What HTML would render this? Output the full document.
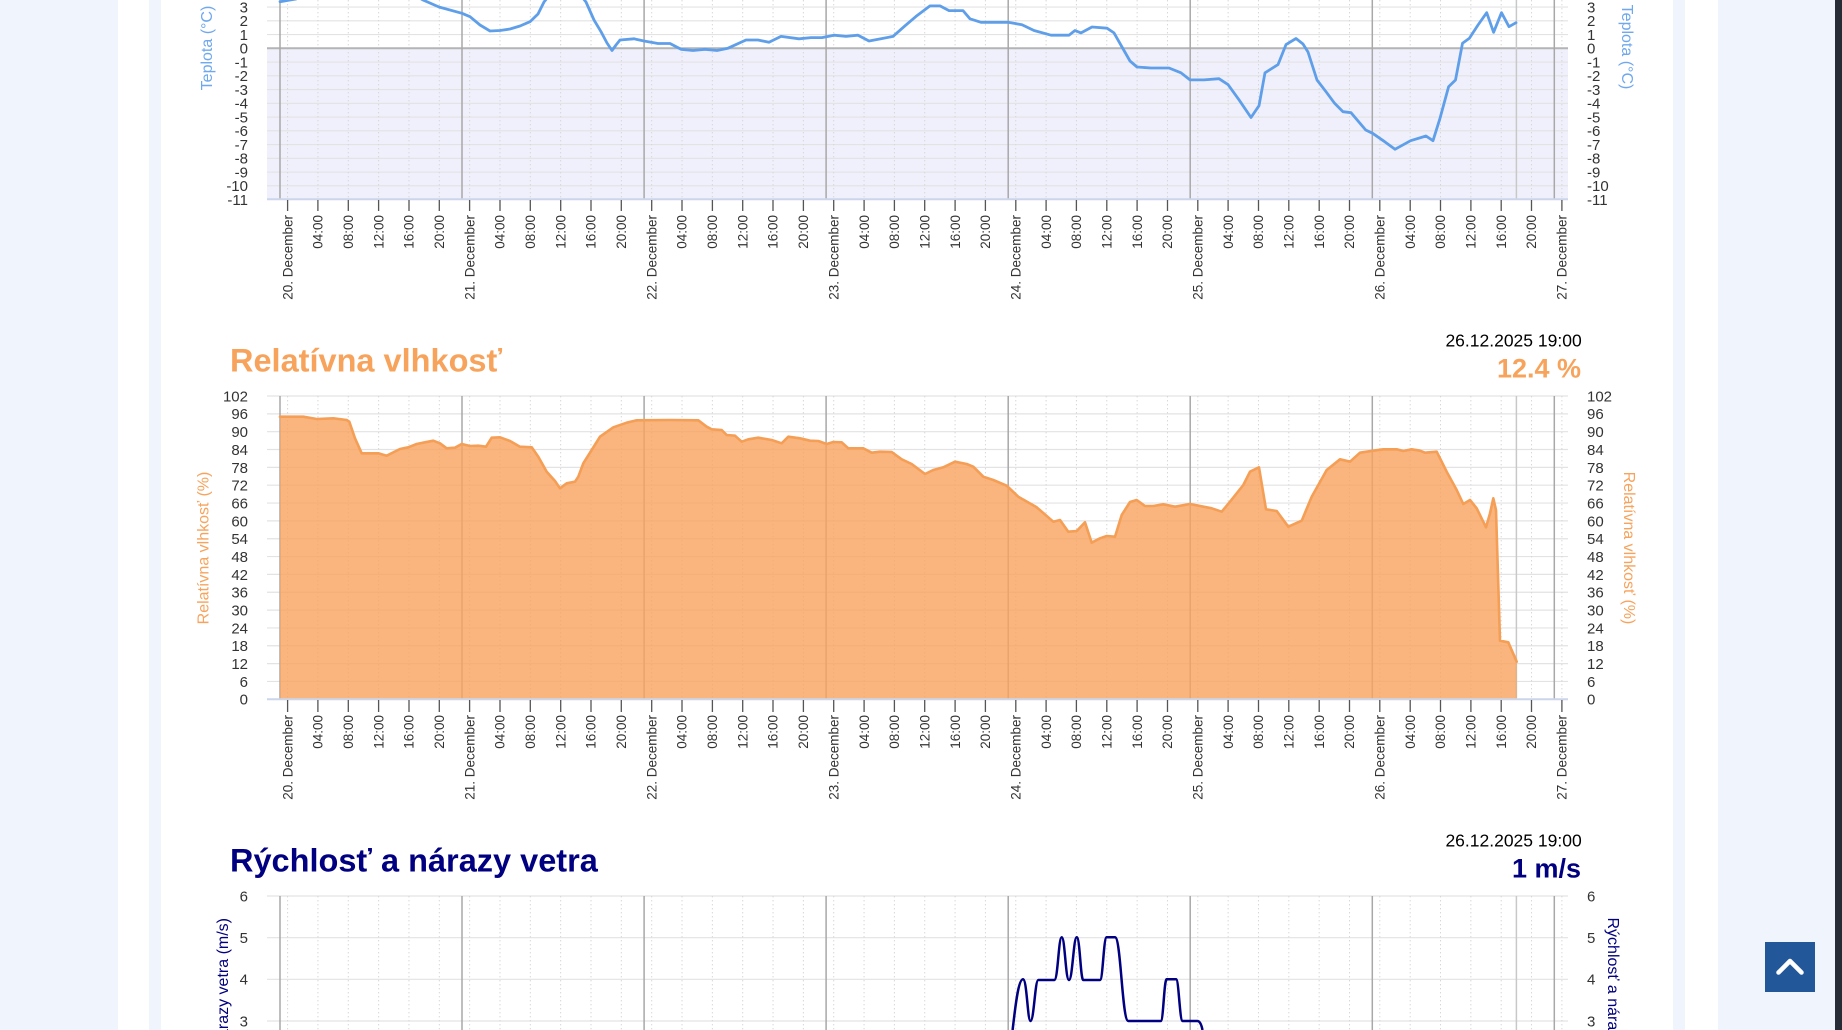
<!DOCTYPE html>
<html><head><meta charset="utf-8">
<style>
html,body{margin:0;padding:0;width:1842px;height:1030px;overflow:hidden}
body{background:#f0f5fd;position:relative;font-family:"Liberation Sans",Arial,sans-serif}
#wrap{position:absolute;left:0;top:0;width:1842px;height:1030px;overflow:hidden}
.s{position:absolute;top:0;height:1030px}
svg{position:absolute;left:0;top:0;display:block}
svg text{font-family:"Liberation Sans",Arial,sans-serif}
</style></head>
<body>
<div id="wrap">
<div class="s" style="left:118px;width:31px;background:#fff"></div>
<div class="s" style="left:161px;width:1512px;background:#fff"></div>
<div class="s" style="left:1685px;width:33px;background:#fff"></div>
<div class="s" style="left:1835px;width:7px;background:#272b36"></div>
<svg width="1842" height="1030" viewBox="0 0 1842 1030" overflow="hidden">
<defs>
<pattern id="dots" patternUnits="userSpaceOnUse" x="287.1" y="0" width="30.34" height="4">
<rect x="0" y="0" width="1" height="1.4" fill="#d6d6d6"/>
</pattern>
<clipPath id="cw"><rect x="267" y="890" width="1301" height="140"/></clipPath>
<clipPath id="ct"><rect x="267" y="0" width="1301" height="200"/></clipPath>
</defs>

<!-- ================= TEMPERATURE ================= -->
<rect x="267" y="48.3" width="1301" height="151" fill="#f0f0fc"/>
<g stroke="#e3e3e3" stroke-width="1.2">
<line x1="267" y1="7.05" x2="1568" y2="7.05"/>
<line x1="267" y1="20.8" x2="1568" y2="20.8"/>
<line x1="267" y1="34.55" x2="1568" y2="34.55"/>
<line x1="267" y1="62.05" x2="1568" y2="62.05"/>
<line x1="267" y1="75.8" x2="1568" y2="75.8"/>
<line x1="267" y1="89.55" x2="1568" y2="89.55"/>
<line x1="267" y1="103.3" x2="1568" y2="103.3"/>
<line x1="267" y1="117.05" x2="1568" y2="117.05"/>
<line x1="267" y1="130.8" x2="1568" y2="130.8"/>
<line x1="267" y1="144.55" x2="1568" y2="144.55"/>
<line x1="267" y1="158.3" x2="1568" y2="158.3"/>
<line x1="267" y1="172.05" x2="1568" y2="172.05"/>
<line x1="267" y1="185.8" x2="1568" y2="185.8"/>
</g>
<rect x="267" y="0" width="1301" height="199" fill="url(#dots)"/>
<line x1="267" y1="48.3" x2="1568" y2="48.3" stroke="#b4b4b4" stroke-width="2"/>
<g stroke="#a8a8a8" stroke-width="1.5">
<line x1="280" y1="0" x2="280" y2="199"/>
<line x1="462" y1="0" x2="462" y2="199"/>
<line x1="644.1" y1="0" x2="644.1" y2="199"/>
<line x1="826.1" y1="0" x2="826.1" y2="199"/>
<line x1="1008.2" y1="0" x2="1008.2" y2="199"/>
<line x1="1190.2" y1="0" x2="1190.2" y2="199"/>
<line x1="1372.3" y1="0" x2="1372.3" y2="199"/>
<line x1="1554.3" y1="0" x2="1554.3" y2="199"/>
</g>
<line x1="1516.4" y1="0" x2="1516.4" y2="199" stroke="#c8c8c8" stroke-width="1.5"/>
<line x1="267" y1="199.3" x2="1568" y2="199.3" stroke="#ccd6eb" stroke-width="2"/>
<g clip-path="url(#ct)">
<path fill="none" stroke="#5f9fe9" stroke-width="2.8" stroke-linejoin="round" stroke-linecap="round"
d="M280,1.7 L296,-1 L300,-3 L418,-3 L423,0 L439,7 L462,13.3 L470,16.7 L480,25 L490,31 L500,30.5 L510,29 L520,26 L530,21.7 L538,14 L544,2 L548,-3 L582,-3 L586,2 L594,20 L601,31.7 L607,43 L612,50.5 L616,45 L620,40 L634,38.8 L644,41 L658,43.5 L670,43.5 L681,49.3 L693,50.5 L705,49.3 L717,50.5 L728,48.2 L746,40 L758,40 L769,42.3 L781,36.4 L799,38.8 L811,37.6 L822,37.6 L834,35.2 L846,36.4 L858,35.2 L869,41 L881,38.8 L893,36.4 L905,25.8 L916,16.4 L930,5.9 L940,5.9 L949,10.6 L963,10.6 L970,18.8 L981,22.3 L993,22.3 L1008,22.3 L1022,24.7 L1034,30.5 L1051,35.2 L1069,35.2 L1075,30.5 L1081,32.9 L1092,27 L1107,28.2 L1114,32.9 L1122,47 L1130,61 L1137,67 L1151,68 L1169,68 L1181,72.8 L1190,79.9 L1204,79.9 L1219,78.7 L1228,84.6 L1239,99.8 L1251,117.5 L1259,105.7 L1265,72.8 L1278,64.6 L1286,44.6 L1296,38.5 L1303,44 L1308,52 L1317,80 L1326,91.7 L1334.6,103.3 L1343,111.7 L1351,112.7 L1365.7,130 L1372.6,133.3 L1384.7,141.7 L1395,149.3 L1410.6,140.7 L1426,136 L1433,140.7 L1440,118.3 L1448.6,86.7 L1455.5,80 L1462.5,43.3 L1469.4,38.3 L1478,25 L1486.7,12.7 L1493.6,32.3 L1501.5,12.7 L1509,26.7 L1516,22.7"/>
</g>
<path stroke="#555" stroke-width="1.3" d="M287.6,200V211M317.9,200V211M348.3,200V211M378.6,200V211M409,200V211M439.3,200V211M469.6,200V211M500,200V211M530.3,200V211M560.7,200V211M591,200V211M621.3,200V211M651.7,200V211M682,200V211M712.4,200V211M742.7,200V211M773,200V211M803.4,200V211M833.7,200V211M864.1,200V211M894.4,200V211M924.7,200V211M955.1,200V211M985.4,200V211M1015.8,200V211M1046.1,200V211M1076.4,200V211M1106.8,200V211M1137.1,200V211M1167.5,200V211M1197.8,200V211M1228.1,200V211M1258.5,200V211M1288.8,200V211M1319.2,200V211M1349.5,200V211M1379.8,200V211M1410.2,200V211M1440.5,200V211M1470.9,200V211M1501.2,200V211M1531.5,200V211M1561.9,200V211"/>
<g font-size="15" fill="#333" text-anchor="end">
<text x="248" y="12.4">3</text><text x="248" y="26.2">2</text><text x="248" y="39.9">1</text><text x="248" y="53.7">0</text><text x="248" y="67.4">-1</text><text x="248" y="81.2">-2</text><text x="248" y="94.9">-3</text><text x="248" y="108.7">-4</text><text x="248" y="122.4">-5</text><text x="248" y="136.2">-6</text><text x="248" y="149.9">-7</text><text x="248" y="163.7">-8</text><text x="248" y="177.4">-9</text><text x="248" y="191.2">-10</text><text x="248" y="204.9">-11</text>
</g>
<g font-size="15" fill="#333" text-anchor="start">
<text x="1587" y="12.4">3</text><text x="1587" y="26.2">2</text><text x="1587" y="39.9">1</text><text x="1587" y="53.7">0</text><text x="1587" y="67.4">-1</text><text x="1587" y="81.2">-2</text><text x="1587" y="94.9">-3</text><text x="1587" y="108.7">-4</text><text x="1587" y="122.4">-5</text><text x="1587" y="136.2">-6</text><text x="1587" y="149.9">-7</text><text x="1587" y="163.7">-8</text><text x="1587" y="177.4">-9</text><text x="1587" y="191.2">-10</text><text x="1587" y="204.9">-11</text>
</g>
<g transform="rotate(-90)" font-size="16" fill="#6fa8ee" text-anchor="middle"><text x="-48" y="212">Teplota (°C)</text></g>
<g transform="rotate(90)" font-size="16" fill="#6fa8ee" text-anchor="middle"><text x="47" y="-1622">Teplota (°C)</text></g>
<g transform="rotate(-90)" font-size="13.5" fill="#333" text-anchor="end">
<text x="-215" y="292.3">20. December</text><text x="-215" y="322.6">04:00</text><text x="-215" y="353">08:00</text><text x="-215" y="383.3">12:00</text><text x="-215" y="413.7">16:00</text><text x="-215" y="444">20:00</text>
<text x="-215" y="474.3">21. December</text><text x="-215" y="504.7">04:00</text><text x="-215" y="535">08:00</text><text x="-215" y="565.4">12:00</text><text x="-215" y="595.7">16:00</text><text x="-215" y="626">20:00</text>
<text x="-215" y="656.4">22. December</text><text x="-215" y="686.7">04:00</text><text x="-215" y="717.1">08:00</text><text x="-215" y="747.4">12:00</text><text x="-215" y="777.7">16:00</text><text x="-215" y="808.1">20:00</text>
<text x="-215" y="838.4">23. December</text><text x="-215" y="868.8">04:00</text><text x="-215" y="899.1">08:00</text><text x="-215" y="929.4">12:00</text><text x="-215" y="959.8">16:00</text><text x="-215" y="990.1">20:00</text>
<text x="-215" y="1020.5">24. December</text><text x="-215" y="1050.8">04:00</text><text x="-215" y="1081.1">08:00</text><text x="-215" y="1111.5">12:00</text><text x="-215" y="1141.8">16:00</text><text x="-215" y="1172.2">20:00</text>
<text x="-215" y="1202.5">25. December</text><text x="-215" y="1232.8">04:00</text><text x="-215" y="1263.2">08:00</text><text x="-215" y="1293.5">12:00</text><text x="-215" y="1323.9">16:00</text><text x="-215" y="1354.2">20:00</text>
<text x="-215" y="1384.5">26. December</text><text x="-215" y="1414.9">04:00</text><text x="-215" y="1445.2">08:00</text><text x="-215" y="1475.6">12:00</text><text x="-215" y="1505.9">16:00</text><text x="-215" y="1536.2">20:00</text>
<text x="-215" y="1566.6">27. December</text>
</g>

<!-- ================= HUMIDITY ================= -->
<text x="230" y="371.7" font-size="32.5" font-weight="bold" fill="#f7a35c">Relatívna vlhkosť</text>
<text x="1581.7" y="346.7" font-size="17.5" fill="#000" text-anchor="end">26.12.2025 19:00</text>
<text x="1581" y="377.3" font-size="27" font-weight="bold" fill="#f7a35c" text-anchor="end">12.4 %</text>
<g stroke="#e3e3e3" stroke-width="1.2">
<line x1="267" y1="396" x2="1568" y2="396"/>
<line x1="267" y1="413.84" x2="1568" y2="413.84"/>
<line x1="267" y1="431.68" x2="1568" y2="431.68"/>
<line x1="267" y1="449.53" x2="1568" y2="449.53"/>
<line x1="267" y1="467.37" x2="1568" y2="467.37"/>
<line x1="267" y1="485.21" x2="1568" y2="485.21"/>
<line x1="267" y1="503.05" x2="1568" y2="503.05"/>
<line x1="267" y1="520.89" x2="1568" y2="520.89"/>
<line x1="267" y1="538.73" x2="1568" y2="538.73"/>
<line x1="267" y1="556.57" x2="1568" y2="556.57"/>
<line x1="267" y1="574.41" x2="1568" y2="574.41"/>
<line x1="267" y1="592.25" x2="1568" y2="592.25"/>
<line x1="267" y1="610.1" x2="1568" y2="610.1"/>
<line x1="267" y1="627.94" x2="1568" y2="627.94"/>
<line x1="267" y1="645.78" x2="1568" y2="645.78"/>
<line x1="267" y1="663.62" x2="1568" y2="663.62"/>
<line x1="267" y1="681.46" x2="1568" y2="681.46"/>
</g>
<rect x="267" y="396" width="1301" height="303" fill="url(#dots)"/>
<g stroke="#a8a8a8" stroke-width="1.5">
<line x1="280" y1="396" x2="280" y2="699"/>
<line x1="462" y1="396" x2="462" y2="699"/>
<line x1="644.1" y1="396" x2="644.1" y2="699"/>
<line x1="826.1" y1="396" x2="826.1" y2="699"/>
<line x1="1008.2" y1="396" x2="1008.2" y2="699"/>
<line x1="1190.2" y1="396" x2="1190.2" y2="699"/>
<line x1="1372.3" y1="396" x2="1372.3" y2="699"/>
<line x1="1554.3" y1="396" x2="1554.3" y2="699"/>
</g>
<line x1="1516.4" y1="396" x2="1516.4" y2="699" stroke="#c8c8c8" stroke-width="1.5"/>
<path fill="#f7a35c" fill-opacity="0.8" stroke="none"
d="M280,699.3 L280,416.7 L303.3,416.7 L316.7,419 L333.3,418.3 L346.7,420 L349.3,421.7 L355,438.3 L361.7,453.3 L378.3,453.3 L386.7,455.7 L400,449 L408.3,447.3 L416.7,444 L425,442.3 L433.3,440.7 L440,443.3 L446.7,448.3 L455,447.7 L461.7,444 L470,446 L478.3,445.7 L486,446.7 L491.7,437.7 L500,437.3 L510,441 L520,446.7 L531.7,447.3 L538.3,456.7 L546.7,471.7 L555,481 L560,488.3 L566.7,483.3 L575,481.7 L578.3,476.7 L583.3,463.3 L591.7,450 L600,436.7 L613.3,427.3 L626.7,422.7 L636.7,420.3 L670,420 L698.3,420.3 L706.7,426.7 L711.7,429.3 L721.7,430 L726.7,435 L735,435.7 L741.7,441.7 L748.3,439.3 L758.3,437.7 L771.7,440 L781.7,443.3 L788.3,436.7 L800,438.3 L810,440.7 L818.3,441 L826.7,444 L833.3,442 L841.7,442.3 L848.3,448.3 L863.3,448.3 L871.7,452.7 L880,451.7 L891.7,452 L901.7,459.3 L911.7,464 L925,474 L933.3,470 L943.3,467.3 L955,461.7 L966.7,464 L973.3,466.7 L983.3,476.7 L993.3,480 L1006.7,485.7 L1018.3,496.7 L1036.7,507.3 L1053.3,521.7 L1060,520 L1068.3,531.7 L1076.7,531 L1085,522.3 L1091.7,542.7 L1100,538.3 L1106.7,536 L1115,536.7 L1121.7,515 L1130,502 L1136.7,500 L1145,506 L1153.3,506 L1163.3,504.3 L1175,506.7 L1190,504 L1211.7,508.3 L1221.7,511.7 L1230,501.7 L1243.3,485 L1250,471.7 L1259,467.3 L1266,509.3 L1276.7,511 L1288.3,526.7 L1301.7,520.7 L1311.7,496.7 L1326.7,470 L1340,459.3 L1350,461.7 L1360,452.7 L1373.3,450.7 L1383.3,449.3 L1396.7,449.3 L1403.3,451 L1411.7,449.3 L1420,450.7 L1425,452.7 L1436.7,451.7 L1446.7,471.7 L1456.7,490 L1463.3,504 L1470,500 L1476.7,508.3 L1486,527.3 L1490,513.3 L1493.3,498.3 L1496,510 L1500,640.7 L1508.3,642.3 L1516.7,661.7 L1516.7,699.3 Z"/>
<path fill="none" stroke="#f59e55" stroke-width="2.6" stroke-linejoin="round" stroke-linecap="round"
d="M280,416.7 L303.3,416.7 L316.7,419 L333.3,418.3 L346.7,420 L349.3,421.7 L355,438.3 L361.7,453.3 L378.3,453.3 L386.7,455.7 L400,449 L408.3,447.3 L416.7,444 L425,442.3 L433.3,440.7 L440,443.3 L446.7,448.3 L455,447.7 L461.7,444 L470,446 L478.3,445.7 L486,446.7 L491.7,437.7 L500,437.3 L510,441 L520,446.7 L531.7,447.3 L538.3,456.7 L546.7,471.7 L555,481 L560,488.3 L566.7,483.3 L575,481.7 L578.3,476.7 L583.3,463.3 L591.7,450 L600,436.7 L613.3,427.3 L626.7,422.7 L636.7,420.3 L670,420 L698.3,420.3 L706.7,426.7 L711.7,429.3 L721.7,430 L726.7,435 L735,435.7 L741.7,441.7 L748.3,439.3 L758.3,437.7 L771.7,440 L781.7,443.3 L788.3,436.7 L800,438.3 L810,440.7 L818.3,441 L826.7,444 L833.3,442 L841.7,442.3 L848.3,448.3 L863.3,448.3 L871.7,452.7 L880,451.7 L891.7,452 L901.7,459.3 L911.7,464 L925,474 L933.3,470 L943.3,467.3 L955,461.7 L966.7,464 L973.3,466.7 L983.3,476.7 L993.3,480 L1006.7,485.7 L1018.3,496.7 L1036.7,507.3 L1053.3,521.7 L1060,520 L1068.3,531.7 L1076.7,531 L1085,522.3 L1091.7,542.7 L1100,538.3 L1106.7,536 L1115,536.7 L1121.7,515 L1130,502 L1136.7,500 L1145,506 L1153.3,506 L1163.3,504.3 L1175,506.7 L1190,504 L1211.7,508.3 L1221.7,511.7 L1230,501.7 L1243.3,485 L1250,471.7 L1259,467.3 L1266,509.3 L1276.7,511 L1288.3,526.7 L1301.7,520.7 L1311.7,496.7 L1326.7,470 L1340,459.3 L1350,461.7 L1360,452.7 L1373.3,450.7 L1383.3,449.3 L1396.7,449.3 L1403.3,451 L1411.7,449.3 L1420,450.7 L1425,452.7 L1436.7,451.7 L1446.7,471.7 L1456.7,490 L1463.3,504 L1470,500 L1476.7,508.3 L1486,527.3 L1490,513.3 L1493.3,498.3 L1496,510 L1500,640.7 L1508.3,642.3 L1516.7,661.7"/>
<line x1="267" y1="699.3" x2="1568" y2="699.3" stroke="#ccd6eb" stroke-width="2"/>
<path stroke="#555" stroke-width="1.3" d="M287.6,700V712M317.9,700V712M348.3,700V712M378.6,700V712M409,700V712M439.3,700V712M469.6,700V712M500,700V712M530.3,700V712M560.7,700V712M591,700V712M621.3,700V712M651.7,700V712M682,700V712M712.4,700V712M742.7,700V712M773,700V712M803.4,700V712M833.7,700V712M864.1,700V712M894.4,700V712M924.7,700V712M955.1,700V712M985.4,700V712M1015.8,700V712M1046.1,700V712M1076.4,700V712M1106.8,700V712M1137.1,700V712M1167.5,700V712M1197.8,700V712M1228.1,700V712M1258.5,700V712M1288.8,700V712M1319.2,700V712M1349.5,700V712M1379.8,700V712M1410.2,700V712M1440.5,700V712M1470.9,700V712M1501.2,700V712M1531.5,700V712M1561.9,700V712"/>
<g font-size="15" fill="#333" text-anchor="end">
<text x="248" y="401.4">102</text><text x="248" y="419.2">96</text><text x="248" y="437.1">90</text><text x="248" y="454.9">84</text><text x="248" y="472.8">78</text><text x="248" y="490.6">72</text><text x="248" y="508.5">66</text><text x="248" y="526.3">60</text><text x="248" y="544.1">54</text><text x="248" y="562">48</text><text x="248" y="579.8">42</text><text x="248" y="597.7">36</text><text x="248" y="615.5">30</text><text x="248" y="633.3">24</text><text x="248" y="651.2">18</text><text x="248" y="669">12</text><text x="248" y="686.9">6</text><text x="248" y="704.7">0</text>
</g>
<g font-size="15" fill="#333" text-anchor="start">
<text x="1587" y="401.4">102</text><text x="1587" y="419.2">96</text><text x="1587" y="437.1">90</text><text x="1587" y="454.9">84</text><text x="1587" y="472.8">78</text><text x="1587" y="490.6">72</text><text x="1587" y="508.5">66</text><text x="1587" y="526.3">60</text><text x="1587" y="544.1">54</text><text x="1587" y="562">48</text><text x="1587" y="579.8">42</text><text x="1587" y="597.7">36</text><text x="1587" y="615.5">30</text><text x="1587" y="633.3">24</text><text x="1587" y="651.2">18</text><text x="1587" y="669">12</text><text x="1587" y="686.9">6</text><text x="1587" y="704.7">0</text>
</g>
<g transform="rotate(-90)" font-size="16" fill="#f7a35c" text-anchor="middle"><text x="-548" y="208.5">Relatívna vlhkosť (%)</text></g>
<g transform="rotate(90)" font-size="16" fill="#f7a35c" text-anchor="middle"><text x="548" y="-1624">Relatívna vlhkosť (%)</text></g>
<g transform="rotate(-90)" font-size="13.5" fill="#333" text-anchor="end">
<text x="-715" y="292.3">20. December</text><text x="-715" y="322.6">04:00</text><text x="-715" y="353">08:00</text><text x="-715" y="383.3">12:00</text><text x="-715" y="413.7">16:00</text><text x="-715" y="444">20:00</text>
<text x="-715" y="474.3">21. December</text><text x="-715" y="504.7">04:00</text><text x="-715" y="535">08:00</text><text x="-715" y="565.4">12:00</text><text x="-715" y="595.7">16:00</text><text x="-715" y="626">20:00</text>
<text x="-715" y="656.4">22. December</text><text x="-715" y="686.7">04:00</text><text x="-715" y="717.1">08:00</text><text x="-715" y="747.4">12:00</text><text x="-715" y="777.7">16:00</text><text x="-715" y="808.1">20:00</text>
<text x="-715" y="838.4">23. December</text><text x="-715" y="868.8">04:00</text><text x="-715" y="899.1">08:00</text><text x="-715" y="929.4">12:00</text><text x="-715" y="959.8">16:00</text><text x="-715" y="990.1">20:00</text>
<text x="-715" y="1020.5">24. December</text><text x="-715" y="1050.8">04:00</text><text x="-715" y="1081.1">08:00</text><text x="-715" y="1111.5">12:00</text><text x="-715" y="1141.8">16:00</text><text x="-715" y="1172.2">20:00</text>
<text x="-715" y="1202.5">25. December</text><text x="-715" y="1232.8">04:00</text><text x="-715" y="1263.2">08:00</text><text x="-715" y="1293.5">12:00</text><text x="-715" y="1323.9">16:00</text><text x="-715" y="1354.2">20:00</text>
<text x="-715" y="1384.5">26. December</text><text x="-715" y="1414.9">04:00</text><text x="-715" y="1445.2">08:00</text><text x="-715" y="1475.6">12:00</text><text x="-715" y="1505.9">16:00</text><text x="-715" y="1536.2">20:00</text>
<text x="-715" y="1566.6">27. December</text>
</g>

<!-- ================= WIND ================= -->
<text x="230" y="871.7" font-size="32.5" font-weight="bold" fill="#000080">Rýchlosť a nárazy vetra</text>
<text x="1581.7" y="846.7" font-size="17.5" fill="#000" text-anchor="end">26.12.2025 19:00</text>
<text x="1581" y="877.3" font-size="27" font-weight="bold" fill="#000080" text-anchor="end">1 m/s</text>
<g stroke="#e3e3e3" stroke-width="1.2">
<line x1="267" y1="896" x2="1568" y2="896"/>
<line x1="267" y1="937.7" x2="1568" y2="937.7"/>
<line x1="267" y1="979.3" x2="1568" y2="979.3"/>
<line x1="267" y1="1021" x2="1568" y2="1021"/>
</g>
<rect x="267" y="896" width="1301" height="134" fill="url(#dots)"/>
<g stroke="#a8a8a8" stroke-width="1.5">
<line x1="280" y1="896" x2="280" y2="1030"/>
<line x1="462" y1="896" x2="462" y2="1030"/>
<line x1="644.1" y1="896" x2="644.1" y2="1030"/>
<line x1="826.1" y1="896" x2="826.1" y2="1030"/>
<line x1="1008.2" y1="896" x2="1008.2" y2="1030"/>
<line x1="1190.2" y1="896" x2="1190.2" y2="1030"/>
<line x1="1372.3" y1="896" x2="1372.3" y2="1030"/>
<line x1="1554.3" y1="896" x2="1554.3" y2="1030"/>
</g>
<line x1="1516.4" y1="896" x2="1516.4" y2="1030" stroke="#c8c8c8" stroke-width="1.5"/>
<g clip-path="url(#cw)">
<path fill="none" stroke="#000080" stroke-width="2.5" stroke-linejoin="round"
d="M1012.6,1030 C1015,1010 1018,979.3 1023,979.3 C1027,979.3 1027.5,1021 1030.5,1021 C1034,1021 1035,980 1038.3,980 L1054.3,980 C1058,980 1058.5,937.3 1061.7,937.3 C1065,937.3 1065.5,980 1069,980 C1072.5,980 1073.5,937.3 1076.7,937.3 C1080,937.3 1080.5,980 1083.3,980 L1100,980 C1103,980 1103.5,937.3 1106.7,937.3 L1115,937.3 C1121,937.3 1122,1021 1128.3,1021 L1160.7,1021 C1163.5,1021 1164,979.3 1166.7,979.3 L1176,979.3 C1179,979.3 1179.5,1021 1182.7,1021 L1197.3,1021 C1200,1021 1201.5,1025 1202.5,1030"/>
</g>
<g font-size="15" fill="#333" text-anchor="end">
<text x="248" y="901.4">6</text><text x="248" y="943.1">5</text><text x="248" y="984.7">4</text><text x="248" y="1026.4">3</text>
</g>
<g font-size="15" fill="#333" text-anchor="start">
<text x="1587" y="901.4">6</text><text x="1587" y="943.1">5</text><text x="1587" y="984.7">4</text><text x="1587" y="1026.4">3</text>
</g>
<g transform="rotate(-90)" font-size="16" fill="#000080" text-anchor="end"><text x="-918" y="228">Rýchlosť a nárazy vetra (m/s)</text></g>
<g transform="rotate(90)" font-size="16" fill="#000080" text-anchor="start"><text x="917.5" y="-1608">Rýchlosť a nárazy vetra (m/s)</text></g>

<!-- back to top -->
<rect x="1765" y="942" width="50" height="50" fill="#22589a"/>
<polyline points="1778.5,972.5 1790,961 1801.5,972.5" fill="none" stroke="#fff" stroke-width="4.5" stroke-linecap="round" stroke-linejoin="round"/>
</svg>
</div>
</body></html>
